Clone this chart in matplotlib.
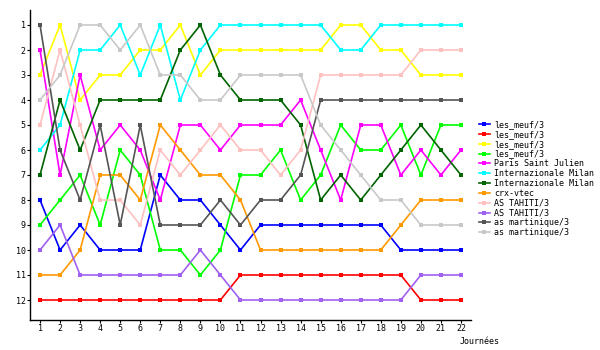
import matplotlib
matplotlib.use("Agg")
import matplotlib.pyplot as plt

# classement par journee (1 = premier)
journees = list(range(1, 23))
ranks = list(range(1, 13))

teams = ["les_meuf/3", "les_meuf/3", "les_meuf/3", "les_meuf/3",
         "Paris Saint Julien", "Internazionale Milan", "Internazionale Milan",
         "crx-vtec", "AS TAHITI/3", "AS TAHITI/3",
         "as martinique/3", "as martinique/3"]

blue = [8, 10, 9, 10, 10, 10, 7, 8, 8, 9, 10, 9, 9, 9, 9, 9, 9, 9, 10, 10, 10, 10]
red = [12, 12, 12, 12, 12, 12, 12, 12, 12, 12, 11, 11, 11, 11, 11, 11, 11, 11, 11, 12, 12, 12]
yellow = [3, 1, 4, 3, 3, 2, 2, 1, 3, 2, 2, 2, 2, 2, 2, 1, 1, 2, 2, 3, 3, 3]
lime = [9, 8, 7, 9, 6, 7, 10, 10, 11, 10, 7, 7, 6, 8, 7, 5, 6, 6, 5, 7, 5, 5]
magenta = [2, 7, 3, 6, 5, 6, 8, 5, 5, 6, 5, 5, 5, 4, 6, 8, 5, 5, 7, 6, 7, 6]
cyan = [6, 5, 2, 2, 1, 3, 1, 4, 2, 1, 1, 1, 1, 1, 1, 2, 2, 1, 1, 1, 1, 1]
dkgreen = [7, 4, 6, 4, 4, 4, 4, 2, 1, 3, 4, 4, 4, 5, 8, 7, 8, 7, 6, 5, 6, 7]
orange = [11, 11, 10, 7, 7, 8, 5, 6, 7, 7, 8, 10, 10, 10, 10, 10, 10, 10, 9, 8, 8, 8]
pink = [5, 2, 5, 8, 8, 9, 6, 7, 6, 5, 6, 6, 7, 6, 3, 3, 3, 3, 3, 2, 2, 2]
purple = [10, 9, 11, 11, 11, 11, 11, 11, 10, 11, 12, 12, 12, 12, 12, 12, 12, 12, 12, 11, 11, 11]
dkgray = [1, 6, 8, 5, 9, 5, 9, 9, 9, 8, 9, 8, 8, 7, 4, 4, 4, 4, 4, 4, 4, 4]
ltgray = [4, 3, 1, 1, 2, 1, 3, 3, 4, 4, 3, 3, 3, 3, 5, 6, 7, 8, 8, 9, 9, 9]

series = [blue, red, yellow, lime, magenta, cyan, dkgreen, orange, pink, purple, dkgray, ltgray]
colors = ["#0000ff", "#ff0000", "#ffff00", "#00ff00", "#ff00ff", "#00ffff",
          "#006400", "#ff9900", "#ffc0c0", "#a060f0", "#555555", "#c8c8c8"]

fig = plt.figure(figsize=(6, 3.5), dpi=100)
ax = fig.add_axes([30 / 600, 1 - 320 / 350, 441 / 600, 310 / 350])

for vals, col, name in zip(series, colors, teams):
    ax.plot(journees, vals, color=col, linewidth=1.2, marker="s",
            markersize=2.5, markeredgewidth=0, label=name)

ax.set_xlim(0.5, 22.5)
ax.set_ylim(12.8, 0.4)
ax.set_xticks(journees)
ax.set_yticks(ranks)
ax.tick_params(labelsize=6, length=2, width=0.8, pad=1)
for lab in ax.get_xticklabels() + ax.get_yticklabels():
    lab.set_family("DejaVu Sans Mono")
ax.spines["top"].set_visible(False)
ax.spines["right"].set_visible(False)
ax.spines["left"].set_linewidth(1)
ax.spines["bottom"].set_linewidth(1)

ax.set_xlabel("Journées", fontsize=6, family="DejaVu Sans Mono")
ax.xaxis.set_label_coords(1.02, -0.055)

ax.legend(loc="upper left", bbox_to_anchor=(1.018, 0.645), frameon=False,
          prop={"family": "DejaVu Sans Mono", "size": 6},
          handlelength=1.3, handletextpad=0.5, labelspacing=0.1,
          borderaxespad=0, borderpad=0)

fig.savefig("out.png", dpi=100)
